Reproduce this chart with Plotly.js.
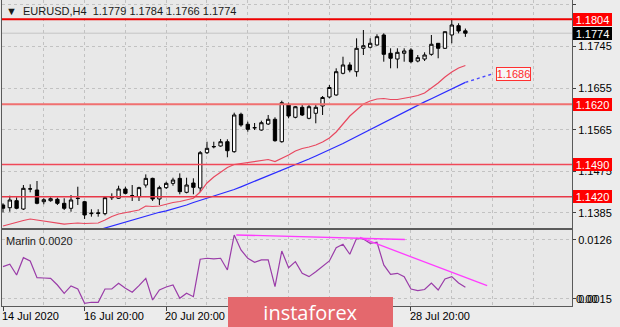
<!DOCTYPE html>
<html><head><meta charset="utf-8">
<script src="https://cdn.plot.ly/plotly-3.0.1.min.js"></script>
<style>html,body{margin:0;padding:0;background:#ececec;}#chart{width:620px;height:327px;}</style>
</head><body><div id="chart"></div>
<script>
// ---- data ----
const symbolTitle = '\u25BC  EURUSD,H4  1.1779 1.1784 1.1766 1.1774';
const indicatorTitle = 'Marlin 0.0020';
const tickBars = [0, 12, 24, 36, 48, 60];
// labels at bars 36 and 48 are hidden under the watermark in the reference
const tickLabels = ['14 Jul 2020', '16 Jul 20:00', '20 Jul 20:00', '', '', '28 Jul 20:00'];
const gridBarsMinor = [6, 18, 30, 42, 54, 66, 72, 78];
const priceTicks = [1.1835, 1.1745, 1.1655, 1.1565, 1.1475, 1.1385];
const marlinTicks = [0.0126, 0.0015];
const levelPrices = [1.1804, 1.1620, 1.1490, 1.1420];
const bidPrice = 1.1774;
const maForecast = 1.1686;

const openP = [1.14023,1.13964,1.14116,1.13936,1.14368,1.14347,1.14094,1.14116,1.14146,1.14059,
1.13951,1.14162,1.14094,1.13835,1.13840,1.13835,1.14180,1.14168,1.14369,1.14225,
1.14203,1.14455,1.14599,1.14153,1.14398,1.14491,1.14599,1.14297,1.14498,1.14391,
1.15154,1.15280,1.15299,1.15392,1.15176,1.15985,1.15769,1.15697,1.15645,1.15775,
1.15877,1.15392,1.16186,1.15920,1.16136,1.15898,1.16007,1.16165,1.16359,1.16403,
1.16872,1.17052,1.16907,1.17413,1.17435,1.17484,1.17701,1.17305,1.17181,1.17305,
1.17376,1.17138,1.17181,1.17283,1.17521,1.17413,1.17701,1.17902,1.1779];
const highP = [1.14060,1.14224,1.14189,1.14455,1.14470,1.14542,1.14168,1.14189,1.14181,1.14168,
1.14239,1.14418,1.14109,1.13930,1.13930,1.14203,1.14275,1.14440,1.14418,1.14455,
1.14418,1.14685,1.14613,1.14440,1.14526,1.14613,1.14707,1.14613,1.14600,1.15191,
1.15392,1.15392,1.15451,1.15444,1.16020,1.16020,1.15825,1.15797,1.15847,1.15970,
1.15920,1.16279,1.16236,1.16165,1.16208,1.16208,1.16208,1.16381,1.16619,1.16980,
1.17231,1.17110,1.17629,1.17809,1.17629,1.17716,1.17737,1.17413,1.17413,1.17413,
1.17413,1.17268,1.17326,1.17701,1.17525,1.17775,1.18040,1.17954,1.1784];
const lowP = [1.13865,1.13878,1.13930,1.13914,1.14297,1.14038,1.14038,1.14094,1.14023,1.13914,
1.13878,1.14023,1.13721,1.13770,1.13770,1.13800,1.14131,1.14153,1.14254,1.14109,
1.14109,1.14398,1.14109,1.14023,1.14369,1.14440,1.14254,1.14275,1.14254,1.14304,
1.15126,1.15249,1.15284,1.15055,1.15154,1.15717,1.15608,1.15645,1.15630,1.15754,
1.15392,1.15371,1.15898,1.15898,1.15948,1.15877,1.15790,1.15970,1.16331,1.16387,
1.16850,1.16894,1.16799,1.17268,1.17413,1.17469,1.17123,1.16980,1.16980,1.17123,
1.17088,1.17110,1.17138,1.17253,1.17197,1.17398,1.17521,1.17737,1.1766];
const closeP = [1.13952,1.14131,1.13951,1.14384,1.14372,1.14059,1.14137,1.14159,1.14059,1.13951,
1.14131,1.14168,1.13807,1.13845,1.13850,1.14181,1.14195,1.14369,1.14275,1.14222,
1.14398,1.14599,1.14153,1.14398,1.14491,1.14563,1.14311,1.14455,1.14405,1.15154,
1.15249,1.15288,1.15392,1.15197,1.15970,1.15754,1.15660,1.15693,1.15803,1.15877,
1.15414,1.16236,1.15948,1.16149,1.15970,1.16149,1.16136,1.16349,1.16565,1.16907,
1.17052,1.16944,1.17413,1.17469,1.17521,1.17664,1.17283,1.17197,1.17326,1.17355,
1.17123,1.17210,1.17268,1.17500,1.17413,1.17772,1.17917,1.17787,1.1774];
const maFast = [1.13568,1.13611,1.13655,1.13687,1.13720,1.13698,1.13676,1.13655,1.13633,1.13611,
1.13622,1.13633,1.13622,1.13622,1.13633,1.13698,1.13774,1.13828,1.13860,1.13893,
1.13914,1.14001,1.13990,1.14001,1.14044,1.14077,1.14098,1.14131,1.14168,1.14304,
1.14499,1.14628,1.14726,1.14834,1.14899,1.14921,1.14931,1.14953,1.14985,1.15007,
1.14964,1.15029,1.15105,1.15191,1.15245,1.15278,1.15321,1.15386,1.15472,1.15602,
1.15775,1.15948,1.16078,1.16208,1.16273,1.16316,1.16327,1.16305,1.16305,1.16327,
1.16359,1.16392,1.16446,1.16554,1.16662,1.16792,1.16900,1.16987,1.17041];
const maSlow = [null,null,null,null,null,null,null,null,null,null,
null,null,null,null,1.13482,1.13525,1.13568,1.13609,1.13653,1.13696,
1.13737,1.13780,1.13824,1.13865,1.13895,1.13936,1.13980,1.14023,1.14077,1.14124,
1.14165,1.14211,1.14261,1.14308,1.14358,1.14416,1.14475,1.14533,1.14594,1.14652,
1.14711,1.14771,1.14830,1.14890,1.14953,1.15018,1.15083,1.15148,1.15213,1.15284,
1.15353,1.15429,1.15505,1.15582,1.15656,1.15732,1.15808,1.15883,1.15963,1.16035,
1.16110,1.16182,1.16253,1.16323,1.16394,1.16463,1.16535,1.16606,1.16675];
const maSlowProjX = [68, 72];
const maSlowProjY = [1.16675, 1.1686];
const marlin = [0.00758,0.00803,0.00602,0.00927,0.00865,0.00551,0.00545,0.00539,0.00413,0.00257,
0.00395,0.00338,0.00069,0.00088,0.00088,0.00338,0.00338,0.00445,0.00351,0.00276,
0.00400,0.00539,0.00131,0.00319,0.00376,0.00413,0.00163,0.00257,0.00193,0.00897,
0.00916,0.00903,0.00916,0.00696,0.01354,0.01072,0.00916,0.00840,0.00884,0.00884,
0.00381,0.01053,0.00739,0.00852,0.00633,0.00570,0.00664,0.00758,0.00865,0.01115,
0.01179,0.00991,0.01292,0.01279,0.01198,0.01217,0.00790,0.00615,0.00633,0.00570,
0.00338,0.00306,0.00329,0.00451,0.00319,0.00526,0.00570,0.00451,0.00370];
const trend1X = [34.3, 59.1], trend1Y = [0.01354, 0.01269];
const trend2X = [52.5, 71.2], trend2Y = [0.01307, 0.00400];

// ---- chart ----
const bars = openP.map((_, i) => i);
const FONT = 'Liberation Sans, Arial, sans-serif';
const gridC = '#c2c2c2', frameC = '#5a5a5a';

const traces = [
  {type:'candlestick', x:bars, open:openP, high:highP, low:lowP, close:closeP,
   xaxis:'x', yaxis:'y', whiskerwidth:0,
   increasing:{line:{color:'#000', width:1}, fillcolor:'#ffffff'},
   decreasing:{line:{color:'#000', width:1}, fillcolor:'#000000'},
   showlegend:false, hoverinfo:'skip'},
  {type:'scatter', mode:'lines', x:bars, y:maFast, xaxis:'x', yaxis:'y',
   line:{color:'#e8485f', width:1.2}, hoverinfo:'skip'},
  {type:'scatter', mode:'lines', x:bars, y:maSlow, xaxis:'x', yaxis:'y',
   line:{color:'#2b2bff', width:1.2}, hoverinfo:'skip'},
  {type:'scatter', mode:'lines', x:maSlowProjX, y:maSlowProjY, xaxis:'x', yaxis:'y',
   line:{color:'#4a4aff', width:1.4, dash:'dot'}, hoverinfo:'skip'},
  {type:'scatter', mode:'lines', x:bars, y:marlin, xaxis:'x2', yaxis:'y2',
   line:{color:'#9a3ca8', width:1.2}, hoverinfo:'skip'},
  {type:'scatter', mode:'lines', x:trend1X, y:trend1Y, xaxis:'x2', yaxis:'y2',
   line:{color:'#ff3cff', width:1.3}, hoverinfo:'skip'},
  {type:'scatter', mode:'lines', x:trend2X, y:trend2Y, xaxis:'x2', yaxis:'y2',
   line:{color:'#ff3cff', width:1.3}, hoverinfo:'skip'}
];

const xr = [-0.147, 83.68];
const xCommon = {range:xr, showline:true, mirror:true, linecolor:frameC, linewidth:1,
  tickvals:tickBars, showticklabels:false, showgrid:true, gridcolor:gridC, griddash:'dot',
  gridwidth:1, zeroline:false, fixedrange:true,
  minor:{tickvals:gridBarsMinor, showgrid:true, gridcolor:gridC, griddash:'dot', ticks:''}};

const layout = {
  width:620, height:327,
  margin:{l:2, r:48, t:0, b:21},
  paper_bgcolor:'#ececec', plot_bgcolor:'#e8e8e8',
  showlegend:false,
  font:{family:FONT, size:11, color:'#000'},
  xaxis: Object.assign({}, xCommon, {anchor:'y', ticks:'', rangeslider:{visible:false}}),
  xaxis2: Object.assign({}, xCommon, {anchor:'y2', matches:'x', ticks:'outside', ticklen:4, tickcolor:'#404040'}),
  yaxis: {domain:[0.2549, 1], side:'right', range:[1.13525, 1.18458], tickvals:priceTicks,
    ticktext:priceTicks.map(v => v.toFixed(4)), ticks:'outside', ticklen:3, tickcolor:'#404040',
    showgrid:true, gridcolor:gridC, griddash:'dot', showline:true, mirror:true, linecolor:frameC,
    zeroline:false, fixedrange:true},
  yaxis2: {domain:[0, 0.2484], side:'right', range:[0.00018, 0.01448], tickvals:marlinTicks,
    ticktext:marlinTicks.map(v => v.toFixed(4)), ticks:'outside', ticklen:3, tickcolor:'#404040',
    showgrid:true, gridcolor:gridC, griddash:'dot', showline:true, mirror:true, linecolor:frameC,
    zeroline:false, fixedrange:true},
  shapes:[], annotations:[]
};

// horizontal levels
const levelStyles = [
  {color:'#ee0000', width:2}, {color:'#f07070', width:2},
  {color:'#f04858', width:1.5}, {color:'#e83848', width:1.5}];
layout.shapes.push({type:'line', xref:'x domain', yref:'y', x0:0, x1:1, y0:bidPrice, y1:bidPrice,
  line:{color:'#c4c4c4', width:1}, layer:'below'});
levelPrices.forEach((p, k) => layout.shapes.push({type:'line', xref:'x domain', yref:'y',
  x0:0, x1:1, y0:p, y1:p, line:levelStyles[k], layer:'above'}));

// right-side price boxes
function priceBox(val, bg, txt) {
  layout.annotations.push({xref:'paper', yref:'y', x:1, y:val, xanchor:'left', yanchor:'middle',
    xshift:1, text:txt || val.toFixed(4), showarrow:false, bgcolor:bg, bordercolor:bg, borderwidth:0,
    borderpad:0, width:39, height:13, align:'center', font:{color:'#ffffff', size:11, family:FONT}});
}
levelPrices.forEach(p => priceBox(p, '#ff0000'));
priceBox(bidPrice, '#000000');

// MA forecast label
layout.annotations.push({xref:'x', yref:'y', x:maSlowProjX[1], y:maForecast, xanchor:'left', yanchor:'middle',
  xshift:3, text:maForecast.toFixed(4), showarrow:false, bgcolor:'#f6f6f6', bordercolor:'#ff3030',
  borderwidth:1, borderpad:0, width:33, height:12, font:{color:'#ff2a2a', size:11, family:FONT}});

// titles
layout.annotations.push({xref:'paper', yref:'paper', x:0, y:(306-11)/306, xanchor:'left', yanchor:'middle',
  xshift:2, text:symbolTitle, showarrow:false, font:{color:'#1a1a1a', size:11, family:FONT}});
layout.annotations.push({xref:'paper', yref:'paper', x:0, y:(306-241)/306, xanchor:'left', yanchor:'middle',
  xshift:2, text:indicatorTitle, showarrow:false, font:{color:'#1a1a1a', size:11, family:FONT}});
layout.annotations.push({xref:'paper', yref:'y2', x:1, y:marlinTicks[1], xanchor:'left', yanchor:'middle',
  xshift:2, text:'0.00', showarrow:false, font:{color:'#000', size:11, family:FONT}});

// time labels
tickBars.forEach((b, k) => { if (tickLabels[k]) layout.annotations.push({xref:'x2', yref:'paper', x:b, y:(306-316)/306,
  xanchor:'left', yanchor:'middle', xshift:-3, text:tickLabels[k], showarrow:false,
  font:{color:'#000', size:11, family:FONT}}); });

// watermark
layout.annotations.push({xref:'paper', yref:'paper', x:(310.5-2)/570, y:(306-312)/306,
  xanchor:'center', yanchor:'middle', text:'instaforex', showarrow:false,
  bgcolor:'#e4686d', bordercolor:'#e4686d', borderwidth:1, borderpad:0, width:163, height:29,
  font:{color:'#ffffff', size:20, family:'Open Sans, Liberation Sans, sans-serif'}});

Plotly.newPlot('chart', traces, layout, {staticPlot:true, displayModeBar:false});
</script></body></html>
